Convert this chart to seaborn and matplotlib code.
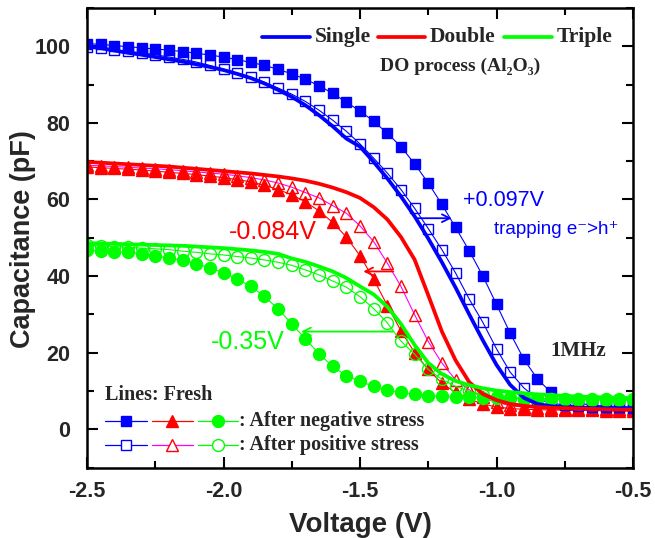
import numpy as np
import pandas as pd
import matplotlib
matplotlib.use('Agg')
import matplotlib.pyplot as plt
import seaborn as sns
from matplotlib.lines import Line2D
from matplotlib.ticker import MultipleLocator, FormatStrFormatter

# ---------------- data ----------------
voltage = [-2.50, -2.45, -2.40, -2.35, -2.30, -2.25, -2.20, -2.15, -2.10, -2.05,
           -2.00, -1.95, -1.90, -1.85, -1.80, -1.75, -1.70, -1.65, -1.60, -1.55,
           -1.50, -1.45, -1.40, -1.35, -1.30, -1.25, -1.20, -1.15, -1.10, -1.05,
           -1.00, -0.95, -0.90, -0.85, -0.80, -0.75, -0.70, -0.65, -0.60, -0.55,
           -0.50]

single_fresh = [100.0, 99.5, 98.9, 98.3, 97.8, 97.2, 96.6, 96.0, 95.3, 94.6,
                93.8, 92.8, 91.7, 90.3, 88.6, 86.8, 84.6, 82.0, 79.1, 75.9,
                73.8, 69.8, 65.5, 60.8, 55.6, 49.8, 43.6, 37.0, 30.0, 23.2,
                16.8, 11.6, 8.2, 6.6, 6.0, 5.7, 5.6, 5.5, 5.5, 5.5,
                5.5]
single_neg = [100.7, 100.5, 100.2, 99.9, 99.6, 99.3, 99.0, 98.6, 98.2, 97.7,
              97.2, 96.5, 95.8, 95.0, 94.0, 92.8, 91.4, 89.7, 87.7, 85.4,
              83.1, 80.4, 77.3, 73.8, 69.3, 64.3, 58.7, 52.7, 46.6, 40.0,
              32.6, 25.1, 18.3, 13.1, 9.6, 7.7, 6.8, 6.3, 6.0, 5.8,
              5.7]
single_pos = [99.8, 99.5, 99.1, 98.7, 98.3, 97.8, 97.2, 96.6, 95.9, 95.0,
              94.0, 93.0, 91.9, 90.6, 89.1, 87.5, 85.6, 83.3, 80.7, 77.8,
              74.5, 70.8, 66.9, 62.6, 57.7, 52.4, 46.9, 40.8, 34.0, 27.9,
              21.0, 14.9, 10.8, 7.9, 6.8, 6.3, 6.0, 5.9, 5.8, 5.7,
              5.6]

double_fresh = [69.8, 69.6, 69.4, 69.2, 69.0, 68.8, 68.6, 68.3, 68.0, 67.7,
                67.4, 67.1, 66.8, 66.4, 66.0, 65.5, 64.9, 64.1, 63.1, 61.9,
                60.4, 58.0, 54.8, 50.2, 44.3, 35.0, 25.5, 18.0, 12.3, 9.2,
                7.6, 6.6, 6.1, 5.8, 5.6, 5.5, 5.4, 5.3, 5.2, 5.1,
                5.1]
double_neg = [68.5, 68.3, 68.1, 67.9, 67.7, 67.4, 67.1, 66.8, 66.5, 66.1,
              65.7, 65.2, 64.6, 63.7, 62.6, 61.2, 59.4, 57.0, 54.0, 50.2,
              45.3, 39.2, 32.3, 25.7, 20.0, 15.6, 12.0, 9.6, 7.8, 6.6,
              5.8, 5.4, 5.2, 5.1, 5.0, 5.0, 4.9, 4.9, 4.8, 4.8,
              4.8]
double_pos = [68.9, 68.8, 68.6, 68.4, 68.2, 68.0, 67.8, 67.5, 67.2, 66.9,
              66.6, 66.2, 65.7, 65.1, 64.3, 63.2, 61.8, 60.4, 58.4, 56.4,
              53.1, 49.0, 43.4, 37.3, 29.9, 22.9, 17.3, 12.9, 10.3, 8.3,
              7.0, 6.2, 5.8, 5.6, 5.5, 5.4, 5.4, 5.3, 5.3, 5.3,
              5.3]

triple_fresh = [48.6, 48.5, 48.4, 48.3, 48.2, 48.1, 48.0, 47.9, 47.7, 47.5,
                47.3, 47.0, 46.7, 46.3, 45.8, 44.6, 43.7, 42.5, 41.2, 39.5,
                37.3, 35.2, 32.0, 27.5, 22.0, 17.3, 14.4, 12.6, 11.5, 10.7,
                10.1, 9.7, 9.4, 9.1, 8.9, 8.7, 8.5, 8.4, 8.3, 8.2,
                8.1]
triple_neg = [46.7, 46.6, 46.4, 46.2, 45.8, 45.3, 44.7, 44.1, 43.2, 42.1,
              40.9, 39.2, 37.3, 34.7, 31.4, 27.5, 23.6, 19.7, 16.4, 14.0,
              12.5, 11.2, 10.3, 9.6, 9.2, 8.8, 8.6, 8.4, 8.3, 8.2,
              8.1, 8.1, 8.0, 8.0, 8.0, 7.9, 7.9, 7.9, 7.8, 7.8,
              7.8]
triple_pos = [48.0, 47.9, 47.7, 47.5, 47.3, 47.1, 46.9, 46.5, 46.2, 45.8,
              45.5, 45.1, 44.7, 44.2, 43.6, 42.8, 41.6, 40.3, 38.7, 37.1,
              34.6, 31.5, 27.8, 23.0, 19.6, 15.6, 13.0, 11.2, 9.9, 9.0,
              8.5, 8.2, 8.0, 7.9, 7.8, 7.8, 7.7, 7.7, 7.6, 7.6,
              7.6]

x_ticks = [-2.5, -2.0, -1.5, -1.0, -0.5]
y_ticks = [0, 20, 40, 60, 80, 100]

# ---------------- style ----------------
sns.set_style('ticks')
plt.rcParams['font.family'] = ['Liberation Sans', 'DejaVu Sans']
plt.rcParams['axes.unicode_minus'] = False

BLUE = '#0000FF'
RED = '#FF0000'
GREEN = '#00FF00'
MAGENTA = '#FF00FF'
SERIF = ['Liberation Serif', 'DejaVu Serif']

df = pd.DataFrame({
    'V': voltage,
    'single_fresh': single_fresh, 'single_neg': single_neg, 'single_pos': single_pos,
    'double_fresh': double_fresh, 'double_neg': double_neg, 'double_pos': double_pos,
    'triple_fresh': triple_fresh, 'triple_neg': triple_neg, 'triple_pos': triple_pos,
})

fig = plt.figure(figsize=(6.55, 5.38), dpi=100)
ax = fig.add_axes([87 / 655, 1 - 467.5 / 538, 546 / 655, 459.5 / 538])

SQ, TRI, CIR = 7.6, 9.2, 8.6

# stressed curves (markers + thin lines)
marker_series = [
    ('double_pos', MAGENTA, RED, '^', 'none', TRI),
    ('double_neg', RED, RED, '^', RED, TRI),
    ('single_pos', BLUE, BLUE, 's', 'none', SQ),
    ('single_neg', BLUE, BLUE, 's', BLUE, SQ),
    ('triple_pos', GREEN, GREEN, 'o', 'none', CIR),
    ('triple_neg', GREEN, GREEN, 'o', GREEN, CIR),
]
for col, lc, mec, mk, mfc, ms in marker_series:
    sns.lineplot(data=df, x='V', y=col, ax=ax, color=lc, linewidth=0.8,
                 marker=mk, markersize=ms, markeredgecolor=mec,
                 markerfacecolor=mfc, markeredgewidth=1.0, legend=False)

# fresh curves (thick lines)
for col, c in [('single_fresh', BLUE), ('double_fresh', RED), ('triple_fresh', GREEN)]:
    sns.lineplot(data=df, x='V', y=col, ax=ax, color=c, linewidth=2.7, legend=False)

ax.set_xlim(-2.5, -0.5)
ax.set_ylim(-10, 110)
ax.set_xticks(x_ticks)
ax.set_yticks(y_ticks)
ax.xaxis.set_major_formatter(FormatStrFormatter('%.1f'))
ax.xaxis.set_minor_locator(MultipleLocator(0.25))
ax.yaxis.set_minor_locator(MultipleLocator(10))
ax.tick_params(which='both', direction='in', top=True, right=True, width=1.5,
               color='black')
ax.tick_params(which='major', length=8, labelsize=15.5)
ax.tick_params(axis='x', which='major', pad=10)
ax.tick_params(axis='y', which='major', pad=12)
ax.tick_params(which='minor', length=5)
for lab in ax.get_xticklabels() + ax.get_yticklabels():
    lab.set_fontweight('bold')
for sp in ax.spines.values():
    sp.set_linewidth(1.8)
    sp.set_color('black')

ax.set_xlabel('Voltage (V)', fontsize=20, fontweight='bold')
ax.set_ylabel('Capacitance (pF)', fontsize=19.5, fontweight='bold')
ax.xaxis.set_label_coords(0.5, -0.097)
ax.yaxis.set_label_coords(-0.094, 0.497)

# ---------------- top legend ----------------
tf = ax.transAxes
fy = 0.9375
for (x0, x1, c, lab) in [(0.3205, 0.4084, BLUE, 'Single'),
                         (0.533, 0.619, RED, 'Double'),
                         (0.764, 0.852, GREEN, 'Triple')]:
    ax.add_line(Line2D([x0, x1], [fy, fy], transform=tf, color=c, lw=2.7))
    ax.text(x1 + 0.008, fy, lab, transform=tf, family=SERIF, fontweight='bold',
            fontsize=15.5, va='center', ha='left')
ax.text(0.683, 0.874, 'DO process (Al\u2082O\u2083)', transform=tf, family=SERIF,
        fontweight='bold', fontsize=14, va='center', ha='center')

# ---------------- bottom legend ----------------
ax.text(0.033, 0.158, 'Lines: Fresh', transform=tf, family=SERIF, fontweight='bold',
        fontsize=14.5, va='center', ha='left')
rows = [(0.1012, 'filled', ': After negative stress'),
        (0.049, 'open', ': After positive stress')]
for ry, kind, txt in rows:
    glyphs = [(0.033, 0.110, 0.0715, BLUE, BLUE, 's', SQ),
              (0.119, 0.194, 0.1565, RED if kind == 'filled' else MAGENTA, RED, '^', TRI),
              (0.2033, 0.2766, 0.240, GREEN, GREEN, 'o', CIR)]
    for x0, x1, xm, lc, mc, mk, ms in glyphs:
        ax.add_line(Line2D([x0, x1], [ry, ry], transform=tf, color=lc, lw=0.9))
        ax.add_line(Line2D([xm], [ry], transform=tf, marker=mk, markersize=ms,
                           markeredgecolor=mc,
                           markerfacecolor=(mc if kind == 'filled' else 'white'),
                           markeredgewidth=1.0, linestyle='none'))
    ax.text(0.2785, ry, txt, transform=tf, family=SERIF, fontweight='bold',
            fontsize=14.5, va='center', ha='left')

# ---------------- annotations ----------------
ax.text(-0.976, 59.8, '+0.097V', color=BLUE, fontsize=15.5, ha='center', va='center')
ax.text(-0.782, 52.1, 'trapping e\u207b>h\u207a', color=BLUE, fontsize=13.5,
        ha='center', va='center')
ax.text(-1.82, 51.6, '-0.084V', color=RED, fontsize=18, ha='center', va='center')
ax.text(-1.912, 22.8, '-0.35V', color=GREEN, fontsize=18, ha='center', va='center')
ax.text(-0.701, 20.3, '1MHz', family=SERIF, fontweight='bold', fontsize=15,
        ha='center', va='center')

arrow_kw = dict(arrowstyle='->', lw=1.3, mutation_scale=14, shrinkA=0, shrinkB=0)
ax.annotate('', xy=(-1.164, 55.1), xytext=(-1.293, 55.1),
            arrowprops=dict(color=BLUE, **arrow_kw))
ax.annotate('', xy=(-1.488, 41.2), xytext=(-1.378, 41.2),
            arrowprops=dict(color=RED, **arrow_kw))
ax.annotate('', xy=(-1.716, 25.5), xytext=(-1.379, 25.5),
            arrowprops=dict(color=GREEN, **arrow_kw))

fig.savefig('out.png', dpi=100)
